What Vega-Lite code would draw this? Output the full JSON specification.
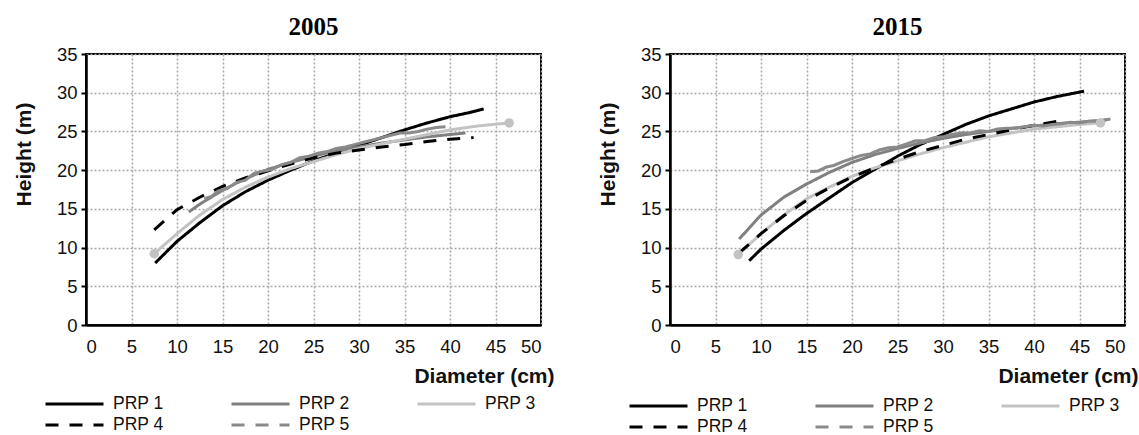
{
  "$schema": "https://vega.github.io/schema/vega-lite/v6.json",
  "padding": {"left": 12, "top": 14, "right": 5, "bottom": 5},
  "background": "white",
  "datasets": {
    "curves": [
      {"year": 2005, "series": "PRP 1", "diameter": 7.6, "height": 8.0},
      {"year": 2005, "series": "PRP 1", "diameter": 10, "height": 10.8},
      {"year": 2005, "series": "PRP 1", "diameter": 12.5, "height": 13.2},
      {"year": 2005, "series": "PRP 1", "diameter": 15, "height": 15.4},
      {"year": 2005, "series": "PRP 1", "diameter": 17.5, "height": 17.2},
      {"year": 2005, "series": "PRP 1", "diameter": 20, "height": 18.7},
      {"year": 2005, "series": "PRP 1", "diameter": 22.5, "height": 20.0},
      {"year": 2005, "series": "PRP 1", "diameter": 25, "height": 21.2},
      {"year": 2005, "series": "PRP 1", "diameter": 27.5, "height": 22.2},
      {"year": 2005, "series": "PRP 1", "diameter": 30, "height": 23.2},
      {"year": 2005, "series": "PRP 1", "diameter": 32.5, "height": 24.2},
      {"year": 2005, "series": "PRP 1", "diameter": 35, "height": 25.2},
      {"year": 2005, "series": "PRP 1", "diameter": 37.5, "height": 26.1},
      {"year": 2005, "series": "PRP 1", "diameter": 40, "height": 26.9},
      {"year": 2005, "series": "PRP 1", "diameter": 42, "height": 27.4},
      {"year": 2005, "series": "PRP 1", "diameter": 43.7, "height": 27.9},

      {"year": 2005, "series": "PRP 2", "diameter": 11.3, "height": 14.6},
      {"year": 2005, "series": "PRP 2", "diameter": 12.5, "height": 15.6},
      {"year": 2005, "series": "PRP 2", "diameter": 15, "height": 17.4},
      {"year": 2005, "series": "PRP 2", "diameter": 17.5, "height": 18.9},
      {"year": 2005, "series": "PRP 2", "diameter": 20, "height": 20.1},
      {"year": 2005, "series": "PRP 2", "diameter": 22.5, "height": 21.0},
      {"year": 2005, "series": "PRP 2", "diameter": 25, "height": 21.8},
      {"year": 2005, "series": "PRP 2", "diameter": 27.5, "height": 22.5},
      {"year": 2005, "series": "PRP 2", "diameter": 30, "height": 23.0},
      {"year": 2005, "series": "PRP 2", "diameter": 32.5, "height": 23.5},
      {"year": 2005, "series": "PRP 2", "diameter": 35, "height": 23.9},
      {"year": 2005, "series": "PRP 2", "diameter": 37.5, "height": 24.3},
      {"year": 2005, "series": "PRP 2", "diameter": 40, "height": 24.6},
      {"year": 2005, "series": "PRP 2", "diameter": 41.7, "height": 24.8},

      {"year": 2005, "series": "PRP 3", "diameter": 7.5, "height": 9.2},
      {"year": 2005, "series": "PRP 3", "diameter": 10, "height": 11.8},
      {"year": 2005, "series": "PRP 3", "diameter": 12.5, "height": 14.2},
      {"year": 2005, "series": "PRP 3", "diameter": 15, "height": 16.2},
      {"year": 2005, "series": "PRP 3", "diameter": 17.5, "height": 17.8},
      {"year": 2005, "series": "PRP 3", "diameter": 20, "height": 19.1},
      {"year": 2005, "series": "PRP 3", "diameter": 22.5, "height": 20.2},
      {"year": 2005, "series": "PRP 3", "diameter": 25, "height": 21.1},
      {"year": 2005, "series": "PRP 3", "diameter": 27.5, "height": 22.0},
      {"year": 2005, "series": "PRP 3", "diameter": 30, "height": 22.8},
      {"year": 2005, "series": "PRP 3", "diameter": 32.5, "height": 23.4},
      {"year": 2005, "series": "PRP 3", "diameter": 35, "height": 24.0},
      {"year": 2005, "series": "PRP 3", "diameter": 37.5, "height": 24.6},
      {"year": 2005, "series": "PRP 3", "diameter": 40, "height": 25.2},
      {"year": 2005, "series": "PRP 3", "diameter": 43, "height": 25.7},
      {"year": 2005, "series": "PRP 3", "diameter": 46.5, "height": 26.1},

      {"year": 2005, "series": "PRP 4", "diameter": 7.5, "height": 12.3},
      {"year": 2005, "series": "PRP 4", "diameter": 10, "height": 14.9},
      {"year": 2005, "series": "PRP 4", "diameter": 12.5, "height": 16.5},
      {"year": 2005, "series": "PRP 4", "diameter": 15, "height": 17.9},
      {"year": 2005, "series": "PRP 4", "diameter": 17.5, "height": 19.0},
      {"year": 2005, "series": "PRP 4", "diameter": 20, "height": 19.9},
      {"year": 2005, "series": "PRP 4", "diameter": 22.5, "height": 20.8},
      {"year": 2005, "series": "PRP 4", "diameter": 25, "height": 21.6},
      {"year": 2005, "series": "PRP 4", "diameter": 27.5, "height": 22.2},
      {"year": 2005, "series": "PRP 4", "diameter": 30, "height": 22.6},
      {"year": 2005, "series": "PRP 4", "diameter": 32.5, "height": 23.0},
      {"year": 2005, "series": "PRP 4", "diameter": 35, "height": 23.3},
      {"year": 2005, "series": "PRP 4", "diameter": 37.5, "height": 23.7},
      {"year": 2005, "series": "PRP 4", "diameter": 40, "height": 24.0},
      {"year": 2005, "series": "PRP 4", "diameter": 42.6, "height": 24.2},

      {"year": 2005, "series": "PRP 5", "diameter": 13, "height": 16.3},
      {"year": 2005, "series": "PRP 5", "diameter": 13.8, "height": 16.6},
      {"year": 2005, "series": "PRP 5", "diameter": 14.5, "height": 17.3},
      {"year": 2005, "series": "PRP 5", "diameter": 15.5, "height": 17.6},
      {"year": 2005, "series": "PRP 5", "diameter": 16.5, "height": 18.4},
      {"year": 2005, "series": "PRP 5", "diameter": 17.5, "height": 18.7},
      {"year": 2005, "series": "PRP 5", "diameter": 18.5, "height": 19.6},
      {"year": 2005, "series": "PRP 5", "diameter": 19.5, "height": 19.9},
      {"year": 2005, "series": "PRP 5", "diameter": 20.5, "height": 20.1},
      {"year": 2005, "series": "PRP 5", "diameter": 21.5, "height": 20.7},
      {"year": 2005, "series": "PRP 5", "diameter": 22.5, "height": 21.0},
      {"year": 2005, "series": "PRP 5", "diameter": 23.5, "height": 21.6},
      {"year": 2005, "series": "PRP 5", "diameter": 24.5, "height": 21.8},
      {"year": 2005, "series": "PRP 5", "diameter": 25.5, "height": 22.2},
      {"year": 2005, "series": "PRP 5", "diameter": 26.5, "height": 22.4},
      {"year": 2005, "series": "PRP 5", "diameter": 27.5, "height": 22.8},
      {"year": 2005, "series": "PRP 5", "diameter": 28.5, "height": 23.0},
      {"year": 2005, "series": "PRP 5", "diameter": 29.5, "height": 23.3},
      {"year": 2005, "series": "PRP 5", "diameter": 30.5, "height": 23.6},
      {"year": 2005, "series": "PRP 5", "diameter": 31.5, "height": 23.9},
      {"year": 2005, "series": "PRP 5", "diameter": 32.5, "height": 24.2},
      {"year": 2005, "series": "PRP 5", "diameter": 33.5, "height": 24.5},
      {"year": 2005, "series": "PRP 5", "diameter": 34.5, "height": 24.8},
      {"year": 2005, "series": "PRP 5", "diameter": 35.5, "height": 24.8},
      {"year": 2005, "series": "PRP 5", "diameter": 36.5, "height": 25.0},
      {"year": 2005, "series": "PRP 5", "diameter": 37.5, "height": 25.3},
      {"year": 2005, "series": "PRP 5", "diameter": 38.5, "height": 25.5},
      {"year": 2005, "series": "PRP 5", "diameter": 39.5, "height": 25.6},

      {"year": 2015, "series": "PRP 1", "diameter": 8.7, "height": 8.3},
      {"year": 2015, "series": "PRP 1", "diameter": 10, "height": 9.8},
      {"year": 2015, "series": "PRP 1", "diameter": 12.5, "height": 12.2},
      {"year": 2015, "series": "PRP 1", "diameter": 15, "height": 14.4},
      {"year": 2015, "series": "PRP 1", "diameter": 17.5, "height": 16.4},
      {"year": 2015, "series": "PRP 1", "diameter": 20, "height": 18.4},
      {"year": 2015, "series": "PRP 1", "diameter": 22.5, "height": 20.1},
      {"year": 2015, "series": "PRP 1", "diameter": 25, "height": 21.8},
      {"year": 2015, "series": "PRP 1", "diameter": 27.5, "height": 23.3},
      {"year": 2015, "series": "PRP 1", "diameter": 30, "height": 24.6},
      {"year": 2015, "series": "PRP 1", "diameter": 32.5, "height": 25.9},
      {"year": 2015, "series": "PRP 1", "diameter": 35, "height": 27.0},
      {"year": 2015, "series": "PRP 1", "diameter": 37.5, "height": 27.9},
      {"year": 2015, "series": "PRP 1", "diameter": 40, "height": 28.8},
      {"year": 2015, "series": "PRP 1", "diameter": 42.5, "height": 29.5},
      {"year": 2015, "series": "PRP 1", "diameter": 45.5, "height": 30.2},

      {"year": 2015, "series": "PRP 2", "diameter": 7.6, "height": 11.1},
      {"year": 2015, "series": "PRP 2", "diameter": 10, "height": 14.2},
      {"year": 2015, "series": "PRP 2", "diameter": 12.5, "height": 16.5},
      {"year": 2015, "series": "PRP 2", "diameter": 15, "height": 18.2},
      {"year": 2015, "series": "PRP 2", "diameter": 17.5, "height": 19.7},
      {"year": 2015, "series": "PRP 2", "diameter": 20, "height": 21.0},
      {"year": 2015, "series": "PRP 2", "diameter": 22.5, "height": 22.0},
      {"year": 2015, "series": "PRP 2", "diameter": 25, "height": 22.8},
      {"year": 2015, "series": "PRP 2", "diameter": 27.5, "height": 23.5},
      {"year": 2015, "series": "PRP 2", "diameter": 30, "height": 24.1},
      {"year": 2015, "series": "PRP 2", "diameter": 32.5, "height": 24.6},
      {"year": 2015, "series": "PRP 2", "diameter": 35, "height": 25.0},
      {"year": 2015, "series": "PRP 2", "diameter": 37.5, "height": 25.4},
      {"year": 2015, "series": "PRP 2", "diameter": 40, "height": 25.7},
      {"year": 2015, "series": "PRP 2", "diameter": 42.5, "height": 26.0},
      {"year": 2015, "series": "PRP 2", "diameter": 45, "height": 26.2},
      {"year": 2015, "series": "PRP 2", "diameter": 48, "height": 26.5},

      {"year": 2015, "series": "PRP 3", "diameter": 7.5, "height": 9.1},
      {"year": 2015, "series": "PRP 3", "diameter": 10, "height": 11.8},
      {"year": 2015, "series": "PRP 3", "diameter": 12.5, "height": 14.2},
      {"year": 2015, "series": "PRP 3", "diameter": 15, "height": 16.3},
      {"year": 2015, "series": "PRP 3", "diameter": 17.5, "height": 17.8},
      {"year": 2015, "series": "PRP 3", "diameter": 20, "height": 19.2},
      {"year": 2015, "series": "PRP 3", "diameter": 22.5, "height": 20.3},
      {"year": 2015, "series": "PRP 3", "diameter": 25, "height": 21.2},
      {"year": 2015, "series": "PRP 3", "diameter": 27.5, "height": 22.1},
      {"year": 2015, "series": "PRP 3", "diameter": 30, "height": 22.9},
      {"year": 2015, "series": "PRP 3", "diameter": 32.5, "height": 23.6},
      {"year": 2015, "series": "PRP 3", "diameter": 35, "height": 24.3},
      {"year": 2015, "series": "PRP 3", "diameter": 37.5, "height": 24.8},
      {"year": 2015, "series": "PRP 3", "diameter": 40, "height": 25.3},
      {"year": 2015, "series": "PRP 3", "diameter": 42.5, "height": 25.6},
      {"year": 2015, "series": "PRP 3", "diameter": 45, "height": 25.9},
      {"year": 2015, "series": "PRP 3", "diameter": 47.3, "height": 26.1},

      {"year": 2015, "series": "PRP 4", "diameter": 7.6, "height": 9.3},
      {"year": 2015, "series": "PRP 4", "diameter": 10, "height": 11.8},
      {"year": 2015, "series": "PRP 4", "diameter": 12.5, "height": 14.1},
      {"year": 2015, "series": "PRP 4", "diameter": 15, "height": 16.1},
      {"year": 2015, "series": "PRP 4", "diameter": 17.5, "height": 17.7},
      {"year": 2015, "series": "PRP 4", "diameter": 20, "height": 19.1},
      {"year": 2015, "series": "PRP 4", "diameter": 22.5, "height": 20.3},
      {"year": 2015, "series": "PRP 4", "diameter": 25, "height": 21.4},
      {"year": 2015, "series": "PRP 4", "diameter": 27.5, "height": 22.4},
      {"year": 2015, "series": "PRP 4", "diameter": 30, "height": 23.2},
      {"year": 2015, "series": "PRP 4", "diameter": 32.5, "height": 24.0},
      {"year": 2015, "series": "PRP 4", "diameter": 35, "height": 24.6},
      {"year": 2015, "series": "PRP 4", "diameter": 37.5, "height": 25.2},
      {"year": 2015, "series": "PRP 4", "diameter": 40, "height": 25.8},
      {"year": 2015, "series": "PRP 4", "diameter": 43.6, "height": 26.5},

      {"year": 2015, "series": "PRP 5", "diameter": 15.4, "height": 19.8},
      {"year": 2015, "series": "PRP 5", "diameter": 16.3, "height": 19.9},
      {"year": 2015, "series": "PRP 5", "diameter": 17.2, "height": 20.4},
      {"year": 2015, "series": "PRP 5", "diameter": 18, "height": 20.6},
      {"year": 2015, "series": "PRP 5", "diameter": 19, "height": 21.1},
      {"year": 2015, "series": "PRP 5", "diameter": 20, "height": 21.5},
      {"year": 2015, "series": "PRP 5", "diameter": 21, "height": 21.9},
      {"year": 2015, "series": "PRP 5", "diameter": 22, "height": 22.1},
      {"year": 2015, "series": "PRP 5", "diameter": 23, "height": 22.6},
      {"year": 2015, "series": "PRP 5", "diameter": 24, "height": 22.9},
      {"year": 2015, "series": "PRP 5", "diameter": 25, "height": 23.0},
      {"year": 2015, "series": "PRP 5", "diameter": 26, "height": 23.4},
      {"year": 2015, "series": "PRP 5", "diameter": 27, "height": 23.8},
      {"year": 2015, "series": "PRP 5", "diameter": 28, "height": 23.8},
      {"year": 2015, "series": "PRP 5", "diameter": 29, "height": 24.2},
      {"year": 2015, "series": "PRP 5", "diameter": 30, "height": 24.3},
      {"year": 2015, "series": "PRP 5", "diameter": 31, "height": 24.6},
      {"year": 2015, "series": "PRP 5", "diameter": 32, "height": 24.8},
      {"year": 2015, "series": "PRP 5", "diameter": 33, "height": 24.8},
      {"year": 2015, "series": "PRP 5", "diameter": 34, "height": 25.1},
      {"year": 2015, "series": "PRP 5", "diameter": 35, "height": 25.0},
      {"year": 2015, "series": "PRP 5", "diameter": 36, "height": 25.3},
      {"year": 2015, "series": "PRP 5", "diameter": 37, "height": 25.4},
      {"year": 2015, "series": "PRP 5", "diameter": 38, "height": 25.4},
      {"year": 2015, "series": "PRP 5", "diameter": 39, "height": 25.6},
      {"year": 2015, "series": "PRP 5", "diameter": 40, "height": 25.8},
      {"year": 2015, "series": "PRP 5", "diameter": 41, "height": 25.7},
      {"year": 2015, "series": "PRP 5", "diameter": 42, "height": 25.9},
      {"year": 2015, "series": "PRP 5", "diameter": 43, "height": 26.0},
      {"year": 2015, "series": "PRP 5", "diameter": 44, "height": 26.2},
      {"year": 2015, "series": "PRP 5", "diameter": 45, "height": 26.1},
      {"year": 2015, "series": "PRP 5", "diameter": 46, "height": 26.3},
      {"year": 2015, "series": "PRP 5", "diameter": 47, "height": 26.3},
      {"year": 2015, "series": "PRP 5", "diameter": 48.4, "height": 26.6}
    ]
  },
  "data": {"name": "curves"},
  "spacing": 41,
  "resolve": {"scale": {"color": "independent", "strokeDash": "independent"}},
  "hconcat": [
    {
      "title": "2005",
      "width": 455,
      "height": 271,
      "transform": [{"filter": "datum.year == 2005"}],
      "encoding": {
        "x": {"field": "diameter", "type": "quantitative",
              "scale": {"domain": [0, 50], "nice": false},
              "axis": {"values": [0, 5, 10, 15, 20, 25, 30, 35, 40, 45, 50], "title": "Diameter (cm)",
                       "titleX": 468, "titleY": 51, "titleAlign": "right", "titleAnchor": "end", "titleBaseline": "middle",
                       "ticks": false, "labelPadding": 12}},
        "y": {"field": "height", "type": "quantitative",
              "scale": {"domain": [0, 35], "nice": false},
              "axis": {"values": [0, 5, 10, 15, 20, 25, 30, 35], "title": "Height (m)",
                       "titleX": -62, "titleY": 100, "titleAlign": "center", "titleBaseline": "middle", "labelPadding": 4}}
      },
      "layer": [
        {
          "transform": [{"filter": "datum.series != 'PRP 5'"}],
          "mark": {"type": "line", "strokeWidth": 3},
          "encoding": {
            "color": {"field": "series", "type": "nominal",
                      "scale": {"domain": ["PRP 1", "PRP 2", "PRP 3", "PRP 4", "PRP 5"], "range": ["#000000", "#808080", "#c3c3c3", "#000000", "#8a8a8a"]},
                      "legend": {"orient": "none", "legendX": -42, "legendY": 341, "columns": 3, "direction": "horizontal", "title": null,
                                 "symbolType": "stroke", "symbolSize": 3364, "symbolStrokeWidth": 3, "clipHeight": 18,
                                 "labelFontSize": 17.5, "labelOffset": 8, "columnPadding": 66, "rowPadding": 3, "labelColor": "#111"}},
            "strokeDash": {"field": "series", "type": "nominal",
                           "scale": {"domain": ["PRP 1", "PRP 2", "PRP 3", "PRP 4", "PRP 5"], "range": [[1, 0], [1, 0], [1, 0], [13, 11], [13, 11]]},
                           "legend": {"orient": "none", "legendX": -42, "legendY": 341, "columns": 3, "direction": "horizontal", "title": null,
                                 "symbolType": "stroke", "symbolSize": 3364, "symbolStrokeWidth": 3, "clipHeight": 18,
                                 "labelFontSize": 17.5, "labelOffset": 8, "columnPadding": 66, "rowPadding": 3, "labelColor": "#111"}}
          }
        },
        {
          "transform": [{"filter": "datum.series == 'PRP 5'"}],
          "mark": {"type": "line", "strokeWidth": 3},
          "encoding": {
            "color": {"field": "series", "type": "nominal"}
          }
        },
        {
          "transform": [
            {"filter": "datum.series == 'PRP 3'"},
            {"joinaggregate": [{"op": "min", "field": "diameter", "as": "dmin"}, {"op": "max", "field": "diameter", "as": "dmax"}]},
            {"filter": "datum.diameter == datum.dmin || datum.diameter == datum.dmax"}
          ],
          "mark": {"type": "point", "filled": true, "color": "#c3c3c3", "size": 90, "opacity": 1}
        }
      ]
    },
    {
      "title": "2015",
      "width": 455,
      "height": 271,
      "transform": [{"filter": "datum.year == 2015"}],
      "encoding": {
        "x": {"field": "diameter", "type": "quantitative",
              "scale": {"domain": [0, 50], "nice": false},
              "axis": {"values": [0, 5, 10, 15, 20, 25, 30, 35, 40, 45, 50], "title": "Diameter (cm)",
                       "titleX": 468, "titleY": 51, "titleAlign": "right", "titleAnchor": "end", "titleBaseline": "middle",
                       "ticks": false, "labelPadding": 12}},
        "y": {"field": "height", "type": "quantitative",
              "scale": {"domain": [0, 35], "nice": false},
              "axis": {"values": [0, 5, 10, 15, 20, 25, 30, 35], "title": "Height (m)",
                       "titleX": -62, "titleY": 100, "titleAlign": "center", "titleBaseline": "middle", "labelPadding": 4}}
      },
      "layer": [
        {
          "transform": [{"filter": "datum.series != 'PRP 5'"}],
          "mark": {"type": "line", "strokeWidth": 3},
          "encoding": {
            "color": {"field": "series", "type": "nominal",
                      "scale": {"domain": ["PRP 1", "PRP 2", "PRP 3", "PRP 4", "PRP 5"], "range": ["#000000", "#808080", "#c3c3c3", "#000000", "#8a8a8a"]},
                      "legend": {"orient": "none", "legendX": -42, "legendY": 343, "columns": 3, "direction": "horizontal", "title": null,
                                 "symbolType": "stroke", "symbolSize": 3364, "symbolStrokeWidth": 3, "clipHeight": 18,
                                 "labelFontSize": 17.5, "labelOffset": 8, "columnPadding": 66, "rowPadding": 3, "labelColor": "#111"}},
            "strokeDash": {"field": "series", "type": "nominal",
                           "scale": {"domain": ["PRP 1", "PRP 2", "PRP 3", "PRP 4", "PRP 5"], "range": [[1, 0], [1, 0], [1, 0], [13, 11], [13, 11]]},
                           "legend": {"orient": "none", "legendX": -42, "legendY": 343, "columns": 3, "direction": "horizontal", "title": null,
                                 "symbolType": "stroke", "symbolSize": 3364, "symbolStrokeWidth": 3, "clipHeight": 18,
                                 "labelFontSize": 17.5, "labelOffset": 8, "columnPadding": 66, "rowPadding": 3, "labelColor": "#111"}}
          }
        },
        {
          "transform": [{"filter": "datum.series == 'PRP 5'"}],
          "mark": {"type": "line", "strokeWidth": 3},
          "encoding": {
            "color": {"field": "series", "type": "nominal"}
          }
        },
        {
          "transform": [
            {"filter": "datum.series == 'PRP 3'"},
            {"joinaggregate": [{"op": "min", "field": "diameter", "as": "dmin"}, {"op": "max", "field": "diameter", "as": "dmax"}]},
            {"filter": "datum.diameter == datum.dmin || datum.diameter == datum.dmax"}
          ],
          "mark": {"type": "point", "filled": true, "color": "#c3c3c3", "size": 90, "opacity": 1}
        }
      ]
    }
  ],
  "config": {
    "font": "Liberation Sans",
    "view": {"stroke": "#000000", "strokeWidth": 2},
    "axis": {
      "domainColor": "#000000", "domainWidth": 2.5,
      "grid": true, "gridColor": "#a8a8a8", "gridDash": [2, 2], "gridWidth": 1.5,
      "labelFont": "Liberation Sans", "labelFontSize": 18.5, "labelColor": "#111111",
      "titleFont": "Liberation Sans", "titleFontSize": 21, "titleFontWeight": "bold", "titleColor": "#111111",
      "tickColor": "#000000", "tickWidth": 2, "tickSize": 5
    },
    "title": {"font": "Liberation Serif", "fontSize": 25, "fontWeight": "bold", "color": "#000000", "offset": 5},
    "legend": {"labelFont": "Liberation Sans"}
  }
}
